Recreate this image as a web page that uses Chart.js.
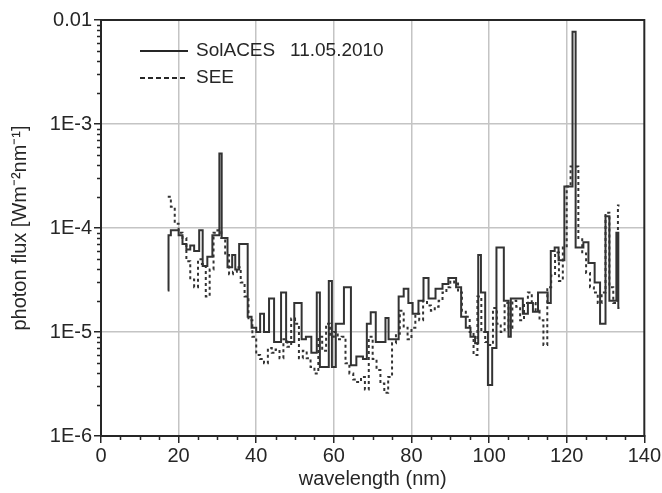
<!DOCTYPE html>
<html>
<head>
<meta charset="utf-8">
<script src="https://cdn.jsdelivr.net/npm/chart.js@4.4.1/dist/chart.umd.min.js"></script>
<style>
  body { margin: 0; background: #fff; }
  #chart { display: block; }
</style>
</head>
<body>
<canvas id="chart" width="662" height="493"></canvas>
<script>
// x ticks (nm) and y decade ticks
const xTicks = [0, 20, 40, 60, 80, 100, 120, 140];
const yTickVals = [1e-6, 1e-5, 1e-4, 1e-3, 1e-2];
const yTickLabels = ["1E-6", "1E-5", "1E-4", "1E-3", "0.01"];

// SolACES 11.05.2010 - step starts (nm) and photon flux
const solWl = [
  17.2, 17.4, 18, 20, 21, 22, 23, 24, 25.3, 26.2,
  27.4, 28.7, 30.5, 31.1, 32.6, 33.8, 34.6, 35.6, 37.8, 38.8,
  40, 41, 42, 43.3, 44.6, 46.4, 47.7, 49.8, 51.7, 52.8,
  54.2, 55.6, 56.4, 58.7, 59.5, 60.5, 62.6, 64.4, 65.8, 67.5,
  68.5, 69.5, 70.8, 73.3, 74.1, 76.7, 78, 79.2, 80.3, 81.8,
  83.1, 84.4, 86.2, 88, 89.5, 91.5, 92.8, 94, 95.2, 96.4,
  97.2, 97.9, 99, 99.7, 100.8, 101.9, 103.8, 105, 105.6, 107.4,
  108.7, 110, 111.3, 112.6, 115.1, 115.9, 116.9, 117.9, 119.4, 121.5,
  122.3, 124.3, 125.6, 127.2, 128.6, 130, 131, 132.8, 133.3, 133.6
];
const solFlux = [
  2.5e-5, 8.5e-5, 9.5e-5, 8.5e-5, 7e-5, 6.2e-5, 6.8e-5, 6e-5, 9.5e-5, 4.3e-5,
  5.3e-5, 8.5e-5, 5.2e-4, 8e-5, 4.2e-5, 5.5e-5, 4e-5, 7e-5, 1.4e-5, 1.1e-5,
  1e-5, 1.5e-5, 1e-5, 2.1e-5, 8e-6, 2.4e-5, 8e-6, 1.9e-5, 8.5e-6, 9e-6,
  6.3e-6, 2.4e-5, 4.6e-6, 3.1e-5, 4.6e-6, 1.2e-5, 2.7e-5, 4.8e-6, 5.8e-6, 5.5e-6,
  1.2e-5, 1.55e-5, 8e-6, 1.36e-5, 8.5e-6, 2.2e-5, 2.6e-5, 1.9e-5, 1.5e-5, 2e-5,
  3.3e-5, 2.1e-5, 2.6e-5, 2.9e-5, 3.3e-5, 2.7e-5, 1.4e-5, 1.1e-5, 9e-6, 7.8e-6,
  5.5e-5, 2.4e-5, 1e-5, 3.1e-6, 7e-6, 6.5e-5, 2e-5, 9e-6, 2.1e-5, 2.1e-5,
  1.5e-5, 1.9e-5, 1.57e-5, 2.4e-5, 1.9e-5, 6e-5, 6.5e-5, 4.9e-5, 2.5e-4, 7.7e-3,
  6.5e-5, 7.3e-5, 4.6e-5, 3e-5, 1.2e-5, 1.3e-4, 2e-5, 9e-5, 1.7e-5, 1.7e-5
];

// SEE - step starts (nm) and photon flux
const seeWl = [
  17.2, 18, 19, 20, 21, 22, 23, 24, 25, 26,
  27, 28, 29, 30, 31, 32, 33, 34, 35, 36,
  37, 38, 39, 40, 41, 42, 43, 44, 45, 46,
  47, 48, 49, 50, 51, 52, 53, 54, 55, 56,
  57, 58, 59, 60, 61, 62, 63, 64, 65, 66,
  67, 68, 69, 70, 71, 72, 73, 74, 75, 76,
  77, 78, 79, 80, 81, 82, 83, 84, 85, 86,
  87, 88, 89, 90, 91, 92, 93, 94, 95, 96,
  97, 98, 99, 100, 101, 102, 103, 104, 105, 106,
  107, 108, 109, 110, 111, 112, 113, 114, 115, 116,
  117, 118, 119, 120, 121, 123, 124, 125, 126, 127,
  128, 129, 130, 131, 132, 133.2, 133.6
];
const seeFlux = [
  2e-4, 1.6e-4, 1.1e-4, 9e-5, 8e-5, 4.8e-5, 3.2e-5, 2.7e-5, 5e-5, 4.5e-5,
  2.2e-5, 4e-5, 9e-5, 9.5e-5, 8e-5, 5.5e-5, 3.6e-5, 3.8e-5, 4.2e-5, 3e-5,
  2.2e-5, 1.3e-5, 9e-6, 6e-6, 5.5e-6, 5e-6, 7e-6, 6.3e-6, 6.8e-6, 5.6e-6,
  8.5e-6, 7.2e-6, 1.35e-5, 1.2e-5, 5.6e-6, 6.6e-6, 5.6e-6, 4.6e-6, 4e-6, 9e-6,
  6.6e-6, 1.2e-5, 9e-6, 1e-5, 8.5e-6, 9e-6, 5e-6, 4e-6, 3.5e-6, 3.3e-6,
  3.7e-6, 2.8e-6, 9e-6, 5.5e-6, 4.3e-6, 3.2e-6, 2.6e-6, 3.7e-6, 7.8e-6, 9.6e-6,
  1.6e-5, 1.1e-5, 8.5e-6, 1.1e-5, 1.5e-5, 1.3e-5, 2e-5, 1.8e-5, 1.6e-5, 1.75e-5,
  2e-5, 2.4e-5, 2.7e-5, 3.3e-5, 3e-5, 2.4e-5, 1.6e-5, 1.4e-5, 1e-5, 6e-6,
  2.2e-5, 1e-5, 8e-6, 7.5e-6, 1.7e-5, 1.2e-5, 1e-5, 1.9e-5, 1.1e-5, 2e-5,
  1.75e-5, 1.3e-5, 1.9e-5, 2.4e-5, 1.9e-5, 1.6e-5, 1.3e-5, 7.5e-6, 2.7e-5, 3.5e-5,
  5.8e-5, 3.1e-5, 6.5e-5, 2.5e-4, 3.9e-4, 8e-5, 5.7e-5, 3.7e-5, 2.7e-5, 2.4e-5,
  1.9e-5, 2.4e-5, 1.4e-4, 2.7e-5, 1.9e-5, 1.65e-4, 1.65e-4
];

const FONT = "'Liberation Sans', Arial, Helvetica, sans-serif";
const INK = "#262626";
const GRID = "#c4c4c4";

// frame, minor ticks and in-plot legend
const framePlugin = {
  id: "frame",
  afterDraw(chart) {
    const { ctx, chartArea: a, scales } = chart;
    ctx.save();
    ctx.strokeStyle = INK;
    ctx.lineWidth = 1.5;
    ctx.beginPath();
    for (let v = 5; v < 140; v += 5) {
      if (v % 20 === 0) continue;
      const x = Math.round(scales.x.getPixelForValue(v)) + 0.5;
      ctx.moveTo(x, a.bottom);
      ctx.lineTo(x, a.bottom + 4);
    }
    for (let d = 1e-6; d < 1e-2; d *= 10) {
      for (let m = 2; m <= 9; m++) {
        const y = Math.round(scales.y.getPixelForValue(m * d)) + 0.5;
        ctx.moveTo(a.left, y);
        ctx.lineTo(a.left - 4, y);
      }
    }
    ctx.stroke();
    ctx.lineWidth = 2;
    ctx.strokeRect(a.left, a.top, a.right - a.left, a.bottom - a.top);

    // legend
    const lx = a.left + 39, ly = a.top + 31;
    ctx.lineWidth = 2;
    ctx.beginPath();
    ctx.moveTo(lx, ly);
    ctx.lineTo(lx + 48, ly);
    ctx.stroke();
    ctx.setLineDash([5, 3]);
    ctx.beginPath();
    ctx.moveTo(lx, ly + 27);
    ctx.lineTo(lx + 48, ly + 27);
    ctx.stroke();
    ctx.setLineDash([]);
    ctx.fillStyle = INK;
    ctx.font = "19px " + FONT;
    ctx.textBaseline = "middle";
    ctx.fillText("SolACES", lx + 56, ly);
    ctx.fillText("11.05.2010", lx + 150, ly);
    ctx.fillText("SEE", lx + 56, ly + 27);
    ctx.restore();
  }
};

new Chart(document.getElementById("chart"), {
  type: "line",
  data: {
    datasets: [
      {
        label: "SolACES 11.05.2010",
        data: solWl.map((x, i) => ({ x: x, y: solFlux[i] })),
        borderColor: "#333",
        borderWidth: 2,
        stepped: true,
        pointRadius: 0,
        fill: false
      },
      {
        label: "SEE",
        data: seeWl.map((x, i) => ({ x: x, y: seeFlux[i] })),
        borderColor: "#333",
        borderWidth: 2,
        borderDash: [3, 3],
        stepped: true,
        pointRadius: 0,
        fill: false
      }
    ]
  },
  options: {
    responsive: false,
    animation: false,
    devicePixelRatio: 1,
    layout: { padding: { left: 0, right: 16, top: 20, bottom: 0 } },
    plugins: {
      legend: { display: false },
      tooltip: { enabled: false }
    },
    scales: {
      x: {
        type: "linear",
        min: 0,
        max: 140,
        afterBuildTicks: (scale) => {
          scale.ticks = xTicks.map((v) => ({ value: v }));
        },
        afterFit: (scale) => { scale.height = 57; },
        ticks: {
          color: INK,
          font: { family: FONT, size: 20 },
          padding: 1,
          maxRotation: 0
        },
        grid: {
          color: (c) => (c.tick && c.tick.value > 0 && c.tick.value < 140 ? GRID : "rgba(0,0,0,0)"),
          lineWidth: 1.5,
          tickColor: INK,
          tickLength: 7,
          tickWidth: 1.5
        },
        border: { color: INK, width: 2 },
        title: {
          display: true,
          text: "wavelength (nm)",
          color: INK,
          font: { family: FONT, size: 20 },
          padding: { top: 0, bottom: 2 }
        }
      },
      y: {
        type: "logarithmic",
        min: 1e-6,
        max: 1e-2,
        afterBuildTicks: (scale) => {
          scale.ticks = yTickVals.map((v) => ({ value: v }));
        },
        afterFit: (scale) => { scale.width = 101; },
        ticks: {
          color: INK,
          font: { family: FONT, size: 20 },
          padding: 2,
          callback: (v) => {
            const i = yTickVals.findIndex((t) => Math.abs(t - v) / t < 1e-6);
            return i >= 0 ? yTickLabels[i] : "";
          }
        },
        grid: {
          color: (c) => (c.tick && c.tick.value > 1.5e-6 && c.tick.value < 5e-3 ? GRID : "rgba(0,0,0,0)"),
          lineWidth: 1.5,
          tickColor: INK,
          tickLength: 7,
          tickWidth: 1.5
        },
        border: { color: INK, width: 2 },
        title: {
          display: true,
          text: "photon flux [Wm\u207B\u00B2nm\u207B\u00B9]",
          color: INK,
          font: { family: FONT, size: 20 },
          padding: { top: 8, bottom: 0 }
        }
      }
    }
  },
  plugins: [framePlugin]
});
</script>
</body>
</html>
